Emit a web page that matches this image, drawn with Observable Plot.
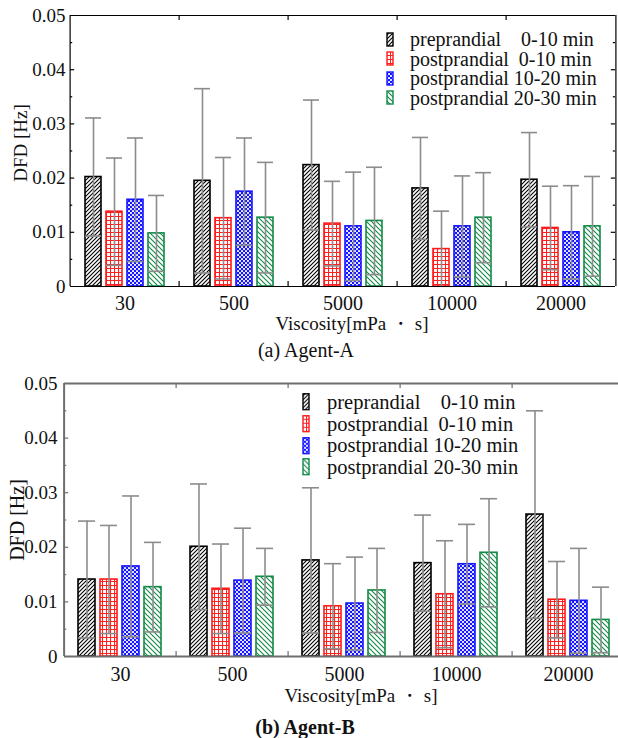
<!DOCTYPE html>
<html><head><meta charset="utf-8">
<script src="https://cdn.jsdelivr.net/npm/d3@7"></script>
<script src="https://cdn.jsdelivr.net/npm/@observablehq/plot@0.6"></script>
<style>
html,body{margin:0;padding:0;background:#fff;overflow:hidden;}
#root{position:relative;width:618px;height:738px;overflow:hidden;font-family:"Liberation Serif","Times New Roman",serif;color:#111;}
.abs{position:absolute;white-space:pre;line-height:1;}
.c{transform:translate(-50%,-50%);}
.leg{position:absolute;font-size:20px;line-height:0.9;}
.leg .row{position:absolute;left:0;white-space:pre;display:flex;align-items:center;}
</style></head><body>
<svg width="0" height="0" style="position:absolute">
<defs>
<pattern id="pat0" patternUnits="userSpaceOnUse" width="4" height="4">
 <rect width="4" height="4" fill="#fff"/>
 <path d="M-1,1 L1,-1 M0,4 L4,0 M3,5 L5,3" stroke="#000" stroke-width="1.1"/>
</pattern>
<pattern id="pat1" patternUnits="userSpaceOnUse" width="4" height="4">
 <rect width="4" height="4" fill="#fff"/>
 <path d="M0,0.5 H4 M0.5,0 V4" stroke="#ff2020" stroke-width="1.1"/>
</pattern>
<pattern id="pat2" patternUnits="userSpaceOnUse" width="4" height="4">
 <rect width="4" height="4" fill="#1414ff"/>
 <circle cx="1" cy="1" r="1.05" fill="#fff"/>
 <circle cx="3" cy="3" r="1.05" fill="#fff"/>
</pattern>
<pattern id="pat3" patternUnits="userSpaceOnUse" width="5" height="5">
 <rect width="5" height="5" fill="#fff"/>
 <path d="M-1,4 L1,6 M0,0 L5,5 M4,-1 L6,1" stroke="#128a48" stroke-width="1.1"/>
</pattern>
</defs></svg>
<div id="root"></div>
<script>
// ---- data ----
const groups = ["30", "500", "5000", "10000", "20000"];
const series = ["preprandial    0-10 min", "postprandial  0-10 min", "postprandial 10-20 min", "postprandial 20-30 min"];
const colors = ["#000000", "#ff1a1a", "#1414ff", "#128a48"];
const yTicks = [0, 0.01, 0.02, 0.03, 0.04, 0.05];
const yMinorTicks = [0.005, 0.015, 0.025, 0.035, 0.045];

// Agent-A: mean and SD
const aPreMean    = [0.0202, 0.0195, 0.0224, 0.0181, 0.0197];
const aPost0Mean  = [0.0138, 0.0126, 0.0116, 0.0069, 0.0108];
const aPost10Mean = [0.0160, 0.0175, 0.0111, 0.0111, 0.0100];
const aPost20Mean = [0.0098, 0.0127, 0.0121, 0.0127, 0.0111];
const aPreSD    = [0.0109, 0.0170, 0.0120, 0.0094, 0.0087];
const aPost0SD  = [0.0099, 0.0112, 0.0078, 0.0070, 0.0077];
const aPost10SD = [0.0114, 0.0099, 0.0100, 0.0093, 0.0086];
const aPost20SD = [0.0070, 0.0102, 0.0099, 0.0083, 0.0092];

// Agent-B: mean and SD
const bPreMean    = [0.0141, 0.0201, 0.0176, 0.0171, 0.0260];
const bPost0Mean  = [0.0141, 0.0124, 0.0092, 0.0114, 0.0104];
const bPost10Mean = [0.0165, 0.0139, 0.0097, 0.0169, 0.0102];
const bPost20Mean = [0.0127, 0.0146, 0.0121, 0.0190, 0.0067];
const bPreSD    = [0.0107, 0.0115, 0.0133, 0.0088, 0.0190];
const bPost0SD  = [0.0099, 0.0082, 0.0078, 0.0098, 0.0070];
const bPost10SD = [0.0129, 0.0096, 0.0085, 0.0073, 0.0096];
const bPost20SD = [0.0082, 0.0052, 0.0077, 0.0099, 0.0060];

function panel(means, sds, cfg) {
  const rows = [];
  series.forEach((s, k) => groups.forEach((g, i) => {
    const m = means[k][i], sd = sds[k][i];
    rows.push({g, s, k, mean: m, hi: m + sd, lo: Math.max(0, m - sd)});
  }));
  const plotW = cfg.width - cfg.marginLeft - cfg.marginRight;
  const plotH = cfg.height - cfg.marginTop - cfg.marginBottom;
  const fw = plotW / groups.length;
  const g0 = groups[0], gN = groups[groups.length - 1];
  const fc = cfg.frameColor, fwid = cfg.frameWidth;
  const errC = "#8c8c8c";
  const marks = [];
  // bars
  series.forEach((s, k) => {
    marks.push(Plot.barY(rows.filter(r => r.k === k), {
      fx: "g", x: "s", y: "mean", fill: `url(#pat${k})`, stroke: colors[k], strokeWidth: 1.6
    }));
  });
  // error bars
  marks.push(Plot.ruleX(rows, {fx: "g", x: "s", y1: "lo", y2: "hi", stroke: errC, strokeWidth: 1.6}));
  marks.push(Plot.tickY(rows, {fx: "g", x: "s", y: "hi", stroke: errC, strokeWidth: 1.6}));
  marks.push(Plot.tickY(rows.filter(r => r.lo > 0), {fx: "g", x: "s", y: "lo", stroke: errC, strokeWidth: 1.6}));
  // frame
  marks.push(Plot.ruleY([0, 0.05], {stroke: fc, strokeWidth: fwid}));
  marks.push(Plot.ruleX([{g: g0}], {fx: "g", x: null, dx: -fw / 2, stroke: fc, strokeWidth: fwid}));
  marks.push(Plot.ruleX([{g: gN}], {fx: "g", x: null, dx: fw / 2, stroke: fc, strokeWidth: fwid}));
  // group boundary ticks (bottom and top)
  const inner = groups.slice(1).map(g => ({g}));
  marks.push(Plot.ruleX(inner, {fx: "g", x: null, dx: -fw / 2, insetTop: plotH - 5, stroke: fc, strokeWidth: 1.2}));
  marks.push(Plot.ruleX(inner, {fx: "g", x: null, dx: -fw / 2, insetBottom: plotH - 5, stroke: fc, strokeWidth: 1.2}));
  // y ticks inward, left and right
  const majL = yTicks.slice(1, -1).map(v => ({g: g0, v}));
  const minL = yMinorTicks.map(v => ({g: g0, v}));
  const majR = yTicks.slice(1, -1).map(v => ({g: gN, v}));
  const minR = yMinorTicks.map(v => ({g: gN, v}));
  marks.push(Plot.tickY(majL, {fx: "g", y: "v", insetRight: fw - 5, stroke: fc, strokeWidth: 1.2}));
  marks.push(Plot.tickY(minL, {fx: "g", y: "v", insetRight: fw - 3, stroke: fc, strokeWidth: 1.2}));
  marks.push(Plot.tickY(majR, {fx: "g", y: "v", insetLeft: fw - 5, stroke: fc, strokeWidth: 1.2}));
  marks.push(Plot.tickY(minR, {fx: "g", y: "v", insetLeft: fw - 3, stroke: fc, strokeWidth: 1.2}));
  // axes
  marks.push(Plot.axisY(yTicks, {tickSize: 0, tickPadding: cfg.yPad, fontSize: 19, label: null,
    tickFormat: d => d === 0 ? "0" : d.toFixed(2)}));
  marks.push(Plot.axisFx({anchor: "bottom", tickSize: 0, tickPadding: cfg.xPad, fontSize: 20, label: null}));

  return Plot.plot({
    width: cfg.width, height: cfg.height,
    marginTop: cfg.marginTop, marginBottom: cfg.marginBottom,
    marginLeft: cfg.marginLeft, marginRight: cfg.marginRight,
    style: {fontFamily: "'Liberation Serif', 'Times New Roman', serif", color: "#111", background: "transparent", maxWidth: "none", overflow: "visible"},
    fx: {domain: groups, padding: 0, label: null},
    x: {domain: series, paddingInner: 0.22, paddingOuter: 0.6, axis: null},
    y: {domain: [0, 0.05], label: null},
    marks
  });
}

const root = document.getElementById("root");
function place(el, top, left) {
  el.style.position = "absolute"; el.style.top = top + "px"; el.style.left = left + "px";
  root.appendChild(el);
}
function text(str, x, y, size, extra) {
  const d = document.createElement("div");
  d.className = "abs c";
  d.textContent = str;
  d.style.left = x + "px"; d.style.top = y + "px"; d.style.fontSize = size + "px";
  Object.assign(d.style, extra || {});
  root.appendChild(d);
  return d;
}
function legend(x, y, rowGap, swW, swH, textX, size) {
  const L = document.createElement("div");
  L.className = "leg";
  L.style.left = x + "px"; L.style.top = y + "px"; L.style.fontSize = size + "px";
  series.forEach((s, k) => {
    const r = document.createElement("div");
    r.className = "row";
    r.style.top = (k * rowGap) + "px";
    r.style.transform = "translateY(-50%)";
    r.innerHTML = `<svg width="${swW + 2}" height="${swH + 2}" style="display:block"><rect x="1" y="1" width="${swW}" height="${swH}" fill="url(#pat${k})" stroke="${colors[k]}" stroke-width="1.4"/></svg><span style="margin-left:${textX - swW - 2}px">${s}</span>`;
    L.appendChild(r);
  });
  root.appendChild(L);
}

// Panel (a)
const svgA = panel([aPreMean, aPost0Mean, aPost10Mean, aPost20Mean], [aPreSD, aPost0SD, aPost10SD, aPost20SD],
  {width: 618, height: 315, marginTop: 15, marginBottom: 29, marginLeft: 68, marginRight: 1,
   frameColor: "#000", frameWidth: 1.2, yPad: 5, xPad: 9});
place(svgA, 0, 0);
text("DFD [Hz]", 20, 143, 19, {transform: "translate(-50%,-50%) rotate(-90deg)"});
text("Viscosity[mPa ・ s]", 352, 323, 19);
text("(a) Agent-A", 306, 350, 20);
legend(386, 39, 19.5, 6, 13, 24, 20);

// Panel (b)
const svgB = panel([bPreMean, bPost0Mean, bPost10Mean, bPost20Mean], [bPreSD, bPost0SD, bPost10SD, bPost20SD],
  {width: 627, height: 315, marginTop: 18, marginBottom: 24, marginLeft: 62, marginRight: 1,
   frameColor: "#6e6e6e", frameWidth: 2, yPad: 7, xPad: 10});
place(svgB, 365, 0);
text("DFD [Hz]", 17, 520, 20, {transform: "translate(-50%,-50%) rotate(-90deg)"});
text("Viscosity[mPa ・ s]", 361, 695, 19);
text("(b) Agent-B", 305, 727, 20, {fontWeight: "bold"});
legend(302, 402, 21.7, 6, 16, 25, 20.5);
</script>
</body></html>
